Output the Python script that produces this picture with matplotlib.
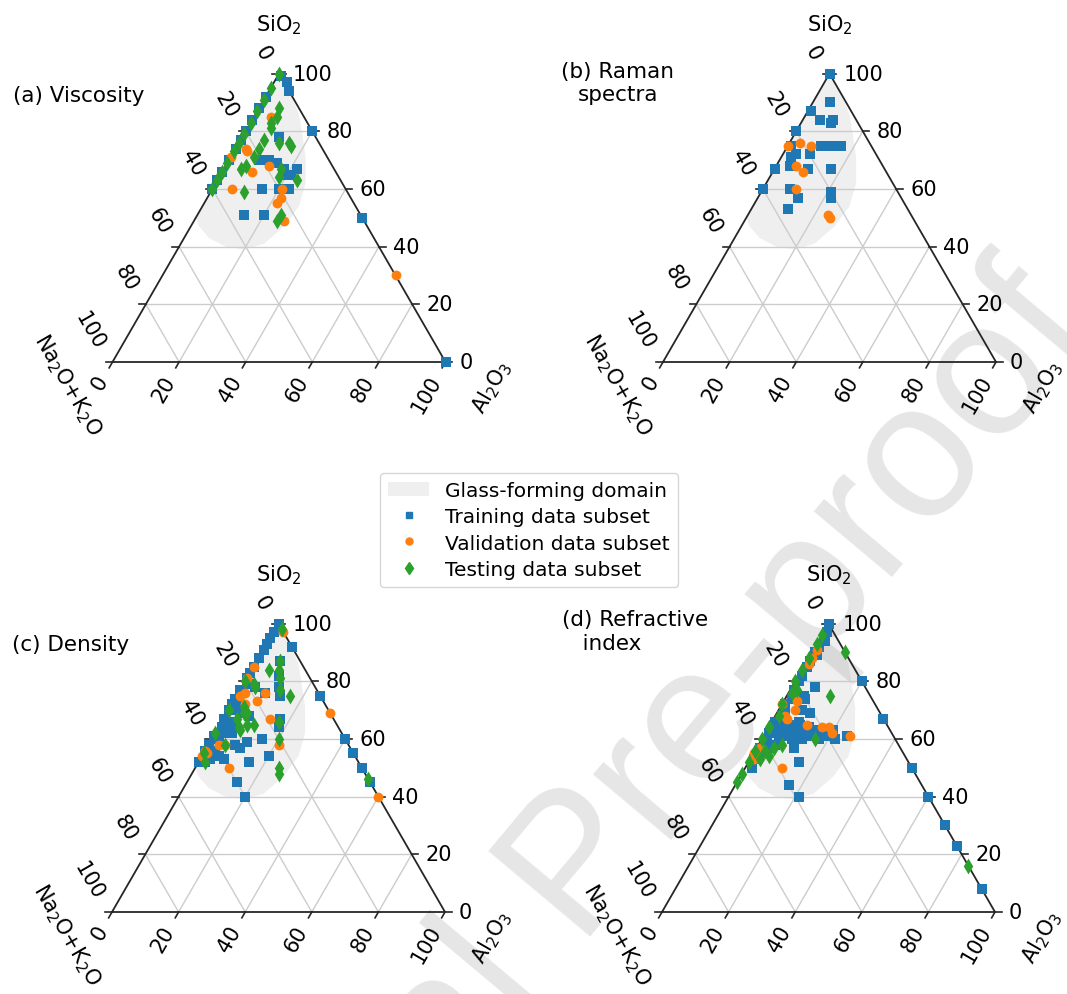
import numpy as np
import matplotlib.pyplot as plt
from matplotlib.patches import Patch
from matplotlib.lines import Line2D

# compositions, mol% SiO2 and Al2O3
# (Na2O+K2O is the remainder)

# glass-forming domain outline
domain_si = [100, 93, 86, 79, 71, 62, 54, 47, 41, 39, 40, 43, 47, 50]
domain_al = [0, 7, 13, 17.5, 22.5, 27, 29, 28, 25, 20, 14, 7.5, 2.5, 0]

# (a) viscosity
visc_train_si = [99, 97, 94, 92, 88, 84, 80, 77, 74, 70, 66, 63, 60,
                 80, 78, 70, 70, 69, 67, 67, 65, 65, 60, 60, 60, 51, 51, 50, 0]
visc_train_al = [1, 4, 6, 0, 0, 0, 0, 0, 0, 0, 0, 0, 0,
                 20, 11, 9, 12, 15, 22, 18, 20, 21, 15, 20, 23, 14, 20, 50, 100]
visc_valid_si = [85, 74, 73, 71, 68, 66, 60, 60, 57, 55, 49, 30]
visc_valid_al = [5, 3, 4, 0, 13, 9, 6, 21, 22, 22, 27, 70]
visc_test_si = [100, 95, 91, 87, 83, 79, 76, 73, 69, 66, 63, 60,
                88, 85, 83, 81, 77, 74, 71, 68, 67, 76, 76, 75, 67, 64, 63, 59, 51, 49]
visc_test_al = [0, 0, 0, 0, 0, 0, 0, 0, 0, 0, 0, 0,
                6, 7, 6, 7, 7, 7, 7, 6, 5, 12, 15, 16, 17, 18, 24, 10, 25, 25]

# (b) Raman spectra
raman_train_si = [100, 90, 87, 84, 84, 83, 80, 75, 75, 75, 75, 72,
                  71, 72, 67, 68, 67, 67, 60, 60, 57, 53, 59, 57]
raman_train_al = [0, 5, 1, 5, 9, 9, 0, 1, 10, 13, 16, 4,
                  3, 8, 0, 4, 10, 17, 0, 8, 12, 11, 21, 22]
raman_valid_si = [75, 76, 75, 68, 66, 60, 50, 51]
raman_valid_al = [0, 3, 7, 6, 9, 10, 25, 24]

# (c) density
dens_train_si = [100, 97, 95, 93, 91, 88, 85, 83, 81, 77, 74, 72, 70, 67, 61, 58, 56, 52,
                 92, 79, 78, 76, 87, 82, 78, 75, 69, 68, 72, 70, 66, 65, 64, 63, 62, 62,
                 60, 60, 58, 59, 57, 56, 54, 54, 53, 53, 52, 52, 45, 40, 67, 64,
                 75, 60, 55, 50, 45]
dens_train_al = [0, 0, 0, 0, 0, 0, 0, 0, 0, 0, 0, 0, 0, 0, 0, 0, 0, 0,
                 8, 2, 4, 8, 7, 9, 11, 13, 4, 7, 2, 1, 2, 4, 1, 4, 2, 5,
                 15, 2, 8, 11, 10, 3, 20, 5, 3, 7, 15, 2, 15, 20, 17, 18,
                 25, 40, 45, 50, 55]
dens_valid_si = [97, 85, 81, 76, 76, 75, 73, 72, 67, 69, 58, 58, 58, 56, 54, 50, 40, 55]
dens_valid_al = [3, 0, 0, 2, 8, 1, 7, 4, 14, 31, 21, 5, 3, 0, 0, 10, 60, 1]
dens_test_si = [98, 87, 84, 81, 77, 84, 75, 79, 71, 69, 65, 64, 66, 60,
                58, 52, 50, 48, 78, 69, 65, 63, 67, 80, 70, 62, 55, 46]
dens_test_al = [2, 7, 8, 10, 12, 5, 16, 3, 4, 6, 10, 6, 17, 20,
                5, 2, 25, 26, 4, 5, 8, 7, 4, 0, 0, 0, 0, 54]

# (d) refractive index
ri_train_si = [100, 97, 95, 92, 90, 87, 85, 82, 80, 77, 74, 72, 70, 68, 66, 64, 62, 59, 57, 55, 53, 50,
               94, 89, 78, 75, 74, 70, 69, 66, 66, 65, 65, 64, 64, 63, 63, 63, 63, 62, 62, 62,
               61, 61, 61, 61, 60, 60, 60, 60, 58, 57, 57, 52, 44, 40,
               65, 64, 63, 62, 61, 60,
               80, 67, 50, 40, 30, 23, 8]
ri_train_al = [0, 1, 1, 1, 1, 1, 1, 1, 1, 1, 2, 1, 2, 2, 1, 2, 1, 2, 1, 2, 1, 2,
               2, 2, 7, 5, 6, 7, 10, 4, 8, 6, 3, 8, 12, 10, 15, 20, 5, 12, 3, 17,
               6, 9, 14, 25, 5, 12, 17, 22, 5, 11, 4, 15, 16, 21,
               9, 5, 12, 8, 19, 9,
               20, 33, 50, 60, 70, 77, 92]
ri_valid_si = [91, 88, 86, 73, 70, 67, 65, 64, 62, 61, 50, 57, 55, 53, 72, 68, 64]
ri_valid_al = [1, 1, 1, 4, 5, 4, 11, 18, 20, 26, 11, 1, 0, 1, 0, 3, 16]
ri_test_si = [96, 93, 88, 84, 80, 76, 72, 68, 64, 60, 56, 52, 48, 45,
              75, 90, 60, 58, 57, 56, 54, 53, 77, 16]
ri_test_al = [0, 0, 0, 0, 0, 1, 0, 1, 0, 0, 0, 0, 0, 0,
              13, 10, 16, 7, 5, 3, 5, 3, 2, 84]

tick_values = [0, 20, 40, 60, 80, 100]

H = np.sqrt(3) / 2
S = 3.33  # pixels per composition unit
FW, FH = 1067, 995


def proj(si, al):
    si = np.asarray(si, dtype=float)
    al = np.asarray(al, dtype=float)
    return al + si / 2, si * H


def make_axes(fig, x0, y0):
    # x0, y0: pixel position of the Na2O+K2O corner (y from the top)
    xa, xb, ya, yb = -40, 130, -35, 105
    left = (x0 + xa * S) / FW
    bottom = (FH - (y0 - ya * S)) / FH
    ax = fig.add_axes([left, bottom, (xb - xa) * S / FW, (yb - ya) * S / FH])
    ax.set_xlim(xa, xb)
    ax.set_ylim(ya, yb)
    ax.axis('off')
    return ax


def draw_ternary(ax):
    ax.fill(*proj(domain_si, domain_al), color='0.5', alpha=0.12, lw=0, zorder=0)
    for v in tick_values[1:-1]:
        ax.plot(*proj([v, v], [0, 100 - v]), color='0.8', lw=1.0, zorder=1)
        ax.plot(*proj([0, 100 - v], [v, v]), color='0.8', lw=1.0, zorder=1)
        ax.plot(*proj([0, 100 - v], [100 - v, 0]), color='0.8', lw=1.0, zorder=1)
    ax.plot(*proj([0, 100, 0, 0], [0, 0, 100, 0]), color='0.15', lw=1.3, zorder=2)

    for v in tick_values:
        # SiO2 (right edge)
        x, y = proj(v, 100 - v)
        ax.plot([x, x + 2], [y, y], color='0.15', lw=1.2)
        ax.text(x + 4.2, y, str(v), ha='left', va='center', fontsize=15)
        # Na2O+K2O (left edge)
        x, y = proj(100 - v, 0)
        ax.plot([x, x - 2], [y, y], color='0.15', lw=1.2)
        ax.text(x - 3.9, y + 4.5, str(v), ha='right', va='center', fontsize=15,
                rotation=-60, rotation_mode='anchor')
        # Al2O3 (bottom edge)
        x, y = proj(0, v)
        ax.plot([x, x - 1], [y, y - 1.75], color='0.15', lw=1.2)
        ax.text(x - 2.7, y - 4.5, str(v), ha='right', va='center', fontsize=15,
                rotation=60, rotation_mode='anchor')

    ax.text(50, 101.5, 'SiO$_2$', ha='center', va='center', fontsize=15)
    ax.text(-13.5, -6.6, 'Na$_2$O+K$_2$O', ha='center', va='center', fontsize=15, rotation=-60)
    ax.text(114, -7.5, 'Al$_2$O$_3$', ha='center', va='center', fontsize=15, rotation=60)


def add_points(ax, si, al, kind):
    x, y = proj(si, al)
    if kind == 'train':
        ax.scatter(x, y, marker='s', s=42, color='tab:blue', lw=0, zorder=3, clip_on=False)
    elif kind == 'valid':
        ax.scatter(x, y, marker='o', s=50, color='tab:orange', lw=0, zorder=4, clip_on=False)
    else:
        ax.scatter(x, y, marker='d', s=65, color='tab:green', lw=0, zorder=5, clip_on=False)


fig = plt.figure(figsize=(FW / 100, FH / 100), dpi=100)

# watermark
fig.text(0.5436, 0.1246, 'Journal Pre-proof', rotation=50, rotation_mode='anchor',
         ha='center', va='center', fontsize=139, color='#e6e6e6',
         family='Liberation Sans', zorder=-1)

ax_a = make_axes(fig, 112.5, 363)
ax_b = make_axes(fig, 663, 363)
ax_c = make_axes(fig, 112, 913)
ax_d = make_axes(fig, 662, 913)

for ax in (ax_a, ax_b, ax_c, ax_d):
    draw_ternary(ax)

add_points(ax_a, visc_train_si, visc_train_al, 'train')
add_points(ax_a, visc_valid_si, visc_valid_al, 'valid')
add_points(ax_a, visc_test_si, visc_test_al, 'test')

add_points(ax_b, raman_train_si, raman_train_al, 'train')
add_points(ax_b, raman_valid_si, raman_valid_al, 'valid')

add_points(ax_c, dens_train_si, dens_train_al, 'train')
add_points(ax_c, dens_valid_si, dens_valid_al, 'valid')
add_points(ax_c, dens_test_si, dens_test_al, 'test')

add_points(ax_d, ri_train_si, ri_train_al, 'train')
add_points(ax_d, ri_valid_si, ri_valid_al, 'valid')
add_points(ax_d, ri_test_si, ri_test_al, 'test')

ax_a.text(-30, 80.2, '(a) Viscosity', ha='left', va='center', fontsize=15.5)
ax_b.text(-30.5, 84, '(b) Raman\nspectra', ha='left', va='center', fontsize=15.5,
          multialignment='center')
ax_c.text(-30, 80.5, '(c) Density', ha='left', va='center', fontsize=15.5)
ax_d.text(-30, 84.4, '(d) Refractive\n   index', ha='left', va='center', fontsize=15.5,
          multialignment='left')

handles = [
    Patch(facecolor='0.5', alpha=0.12, edgecolor='none'),
    Line2D([], [], marker='s', ls='', color='tab:blue', markersize=5),
    Line2D([], [], marker='o', ls='', color='tab:orange', markersize=5),
    Line2D([], [], marker='d', ls='', color='tab:green', markersize=6),
]
labels = ['Glass-forming domain', 'Training data subset',
          'Validation data subset', 'Testing data subset']
fig.legend(handles, labels, loc='center', bbox_to_anchor=(529 / FW, 1 - 531 / FH),
           fontsize=14.5, framealpha=0.8, labelspacing=0.35)

fig.savefig('out.png', dpi=100)
